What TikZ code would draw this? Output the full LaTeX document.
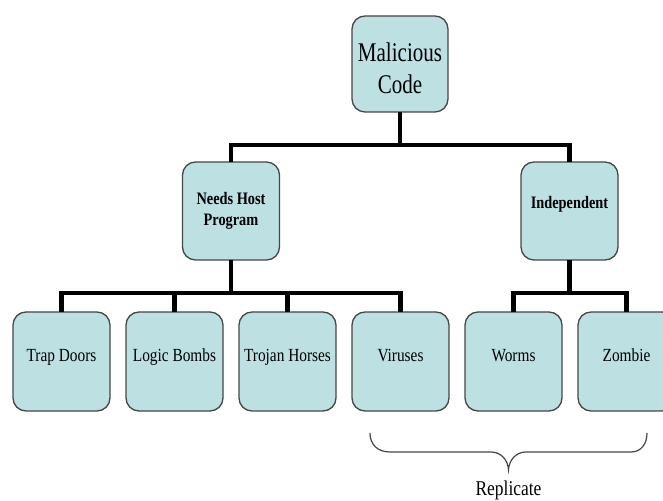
\documentclass[tikz,border=0pt]{standalone}
\usepackage{fontspec}
\setmainfont{Liberation Serif}
\newfontfamily\toplabel[FakeStretch=0.78]{Liberation Serif}
\newfontfamily\midlabel[FakeStretch=0.82]{Liberation Serif}
\newfontfamily\leaflabel[FakeStretch=0.83]{Liberation Serif}
\usetikzlibrary{positioning, calc}
\definecolor{BoxFill}{RGB}{189, 224, 227}
\definecolor{BoxEdge}{RGB}{70, 70, 70}

\tikzset{
  box/.style={draw=BoxEdge, fill=BoxFill, line width=1.3pt, rounded corners=13pt,
    minimum width=97pt, minimum height=98pt, inner sep=0pt, outer sep=0pt},
  midbox/.style={box, font=\midlabel\bfseries\fontsize{17.5}{21}\selectfont},
  leaf/.style={box, minimum height=99pt, font=\leaflabel\fontsize{18.5}{22}\selectfont,
    text height=13pt, text depth=12pt},
  branch/.style={line width=4.5pt, line join=miter},
}

\begin{document}
\begin{tikzpicture}[x=1pt, y=1pt]
    \useasboundingbox (0,0) rectangle (663,500);

    % Top level
    \node[box, minimum width=96pt, minimum height=96pt, align=center,
      font=\toplabel\fontsize{27}{32}\selectfont] (malicious) at (400,436)
      {\rule{0pt}{28pt}Malicious\\Code};

    % Second level
    \node[midbox, align=center] (host) at (231,289) {Needs Host\\Program};
    \node[midbox, text depth=18pt] (indep) at (569.5,289) {Independent};

    % Leaves
    \node[leaf] (trap) at (61.5,138.5) {Trap Doors};
    \node[leaf, right=16pt of trap] (logic) {Logic Bombs};
    \node[leaf, right=16pt of logic] (trojan) {Trojan Horses};
    \node[leaf, right=16pt of trojan] (virus) {Viruses};
    \node[leaf, right=16pt of virus] (worms) {Worms};
    \node[leaf, right=16pt of worms] (zombie) {Zombie};

    % Tree lines
    \coordinate (split) at ([yshift=-33pt]malicious.south);
    \coordinate (hostsplit) at ([yshift=-33pt]host.south);
    \coordinate (indepsplit) at ([yshift=-33pt]indep.south);

    \draw[branch] (malicious.south) -- (split);
    \draw[branch] (host.north) |- (split) -| (indep.north);

    \draw[branch] (host.south) -- (hostsplit);
    \draw[branch] (trap.north) |- (hostsplit) -| (virus.north);
    \draw[branch] (logic.north) -- (logic.north |- hostsplit);
    \draw[branch] (trojan.north) -- (trojan.north |- hostsplit);

    \draw[branch] (indep.south) -- (indepsplit);
    \draw[branch] (worms.north) |- (indepsplit) -| (zombie.north);

    % Brace under the replicating ones
    \draw[BoxEdge, line width=1.2pt] (370,67) .. controls (370,55) and (378,48) .. (390,48)
      -- (491,48) .. controls (501,48) and (508,40) .. (508.5,30)
      .. controls (509,40) and (516,48) .. (526,48)
      -- (631,48) .. controls (641,48) and (647,56) .. (647,67);
    \node[anchor=base, font=\leaflabel\fontsize{21}{25}\selectfont] (replicate) at (508.5,5) {Replicate};
\end{tikzpicture}
\end{document}
